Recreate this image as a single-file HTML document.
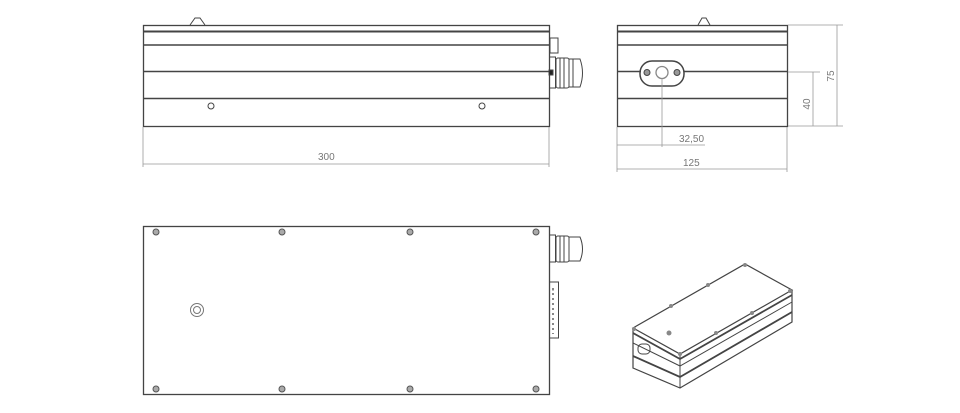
<!DOCTYPE html>
<html><head><meta charset="utf-8"><style>
html,body{margin:0;padding:0;background:#fff;}
svg{display:block;}
text{font-family:"Liberation Sans",sans-serif;fill:#777;font-size:10px;}
</style></head><body>
<svg width="960" height="413" viewBox="0 0 960 413" xmlns="http://www.w3.org/2000/svg">
<g fill="none" stroke="#444" stroke-width="1">
<!-- front view -->
<path d="M190 25 L195 18 L200 18 L205 25" />
<rect x="143.5" y="25.5" width="406" height="101" stroke-width="1.3"/>
<line x1="143" y1="31.5" x2="549" y2="31.5" stroke-width="2"/>
<line x1="143" y1="45" x2="549" y2="45" stroke-width="1.6"/>
<line x1="143" y1="71.5" x2="549" y2="71.5" stroke-width="1.6"/>
<line x1="143" y1="98.5" x2="549" y2="98.5" stroke-width="1.6"/>
<circle cx="211" cy="106" r="3"/>
<circle cx="482" cy="106" r="3"/>
<rect x="550" y="38" width="8" height="15"/>
<rect x="549.5" y="57" width="6" height="31"/>
<rect x="556" y="58" width="13" height="30" rx="2"/>
<path d="M569 59 H580 Q585 73 580 87 H569 Z"/>
<line x1="560" y1="58" x2="560" y2="88"/><line x1="564" y1="58" x2="564" y2="88"/><line x1="573" y1="59" x2="573" y2="87"/>
<rect x="549" y="70" width="4" height="5" fill="#222"/>
<!-- dims front -->
<g stroke="#999" stroke-width="0.8">
<line x1="143" y1="127" x2="143" y2="167"/><line x1="549" y1="127" x2="549" y2="167"/>
<line x1="143" y1="164" x2="549" y2="164"/>
</g>
<!-- side view -->
<path d="M698 25 L702 18 L706 18 L710 25"/>
<rect x="617.5" y="25.5" width="170" height="101" stroke-width="1.3"/>
<line x1="617" y1="31.5" x2="787" y2="31.5" stroke-width="2"/>
<line x1="617" y1="45" x2="787" y2="45" stroke-width="1.6"/>
<line x1="617" y1="71.5" x2="641" y2="71.5" stroke-width="1.6"/>
<line x1="684" y1="71.5" x2="787" y2="71.5" stroke-width="1.6"/>
<line x1="617" y1="98.5" x2="787" y2="98.5" stroke-width="1.6"/>
<rect x="640" y="61" width="44" height="25" rx="12" stroke-width="1.5"/>
<circle cx="662" cy="72.5" r="6" stroke="#888" stroke-width="1.3"/>
<circle cx="647" cy="72.5" r="3" fill="#999"/>
<circle cx="677" cy="72.5" r="3" fill="#999"/>
<g stroke="#999" stroke-width="0.8">
<line x1="662" y1="79" x2="662" y2="147"/>
<line x1="617" y1="127" x2="617" y2="172"/><line x1="787" y1="127" x2="787" y2="172"/>
<line x1="617" y1="145" x2="662" y2="145"/><line x1="662" y1="145" x2="705" y2="145"/>
<line x1="617" y1="169" x2="787" y2="169"/>
<line x1="788" y1="72" x2="820" y2="72"/>
<line x1="788" y1="126" x2="843" y2="126"/>
<line x1="788" y1="25" x2="843" y2="25"/>
<line x1="813" y1="72" x2="813" y2="126"/>
<line x1="837" y1="25" x2="837" y2="126"/>
</g>
<!-- bottom view -->
<rect x="143.5" y="226.5" width="406" height="168" stroke-width="1.3"/>
<g fill="#aaa" stroke="#555">
<circle cx="156" cy="232" r="3"/><circle cx="282" cy="232" r="3"/><circle cx="410" cy="232" r="3"/><circle cx="536" cy="232" r="3"/>
<circle cx="156" cy="389" r="3"/><circle cx="282" cy="389" r="3"/><circle cx="410" cy="389" r="3"/><circle cx="536" cy="389" r="3"/>
</g>
<circle cx="197" cy="310" r="6.5" stroke="#777"/><circle cx="197" cy="310" r="3.5" stroke="#777"/>
<rect x="549.5" y="235" width="6" height="27"/>
<rect x="556" y="236" width="13" height="26" rx="2"/>
<path d="M569 237 H580 Q585 249 580 261 H569 Z"/>
<line x1="560" y1="236" x2="560" y2="262"/><line x1="564" y1="236" x2="564" y2="262"/>
<rect x="549.5" y="282" width="9" height="56"/>
<line x1="552" y1="290" x2="556" y2="290" stroke="#888" stroke-dasharray="2 2"/>
<path d="M553 288 V334" stroke="#888" stroke-dasharray="2 3" stroke-width="2"/>
<!-- iso view -->
<path d="M633 328 L745 264 L792 290 L680 354 Z" stroke-width="1.2"/>
<path d="M633 328 L633 368 L680 388 L792 322 L792 290" stroke-width="1.2"/>
<line x1="680" y1="354" x2="680" y2="388"/>
<path d="M633 333 L680 359 L792 295" stroke-width="1.8"/>
<path d="M633 343 L680 366 L792 302"/>
<path d="M633 356 L680 377 L792 312" stroke-width="1.8"/>
<rect x="638" y="344" width="12" height="10" rx="4"/>
<g fill="#888" stroke="none">
<circle cx="634" cy="329" r="2"/><circle cx="671" cy="306" r="2"/><circle cx="708" cy="285" r="2"/><circle cx="745" cy="265" r="2"/>
<circle cx="790" cy="291" r="2"/><circle cx="752" cy="313" r="2"/><circle cx="716" cy="333" r="2"/><circle cx="680" cy="354" r="2"/>
<circle cx="669" cy="333" r="2.5"/>
</g>
</g>
<text x="318" y="160">300</text>
<text x="679" y="142">32,50</text>
<text x="683" y="166">125</text>
<text transform="translate(810 104) rotate(-90)" text-anchor="middle">40</text>
<text transform="translate(834 76) rotate(-90)" text-anchor="middle">75</text>
</svg>
</body></html>
